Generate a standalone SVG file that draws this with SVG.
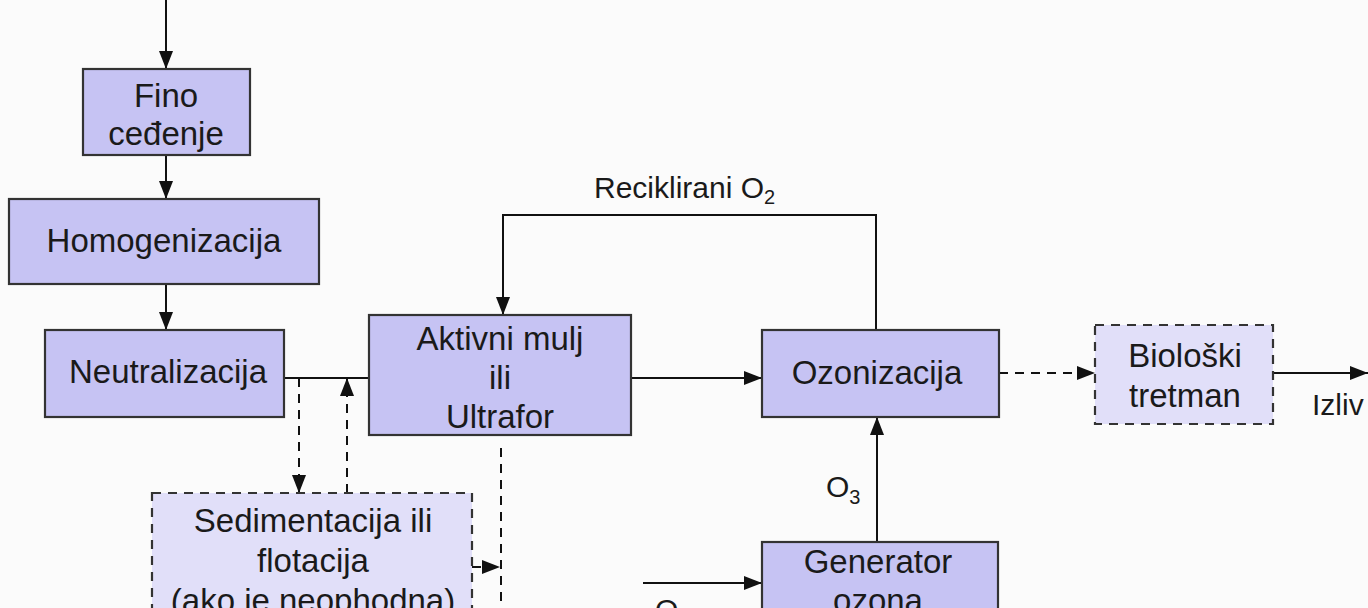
<svg xmlns="http://www.w3.org/2000/svg" width="1368" height="608" viewBox="0 0 1368 608">
<defs>
<marker id="ah" viewBox="0 0 18 14" refX="18" refY="7" markerWidth="18" markerHeight="14" markerUnits="userSpaceOnUse" orient="auto">
<path d="M0,0 L18,7 L0,14 Z" fill="#111"/>
</marker>
<style>
.box{fill:#c6c3f3;stroke:#333;stroke-width:2.2}
.dbox{fill:#e1dff9;stroke:#333;stroke-width:2.2;stroke-dasharray:9 7}
.t{font-family:"Liberation Sans",Arial,sans-serif;font-size:33px;fill:#1a1a1a;text-anchor:middle}
.lb{font-family:"Liberation Sans",Arial,sans-serif;font-size:30px;fill:#1a1a1a}
.c{fill:none;stroke:#111;stroke-width:2}
.d{fill:none;stroke:#111;stroke-width:2;stroke-dasharray:9 7}
</style>
</defs>
<rect width="1368" height="608" fill="#fbfbfb"/>
<g id="connectors">
<path class="c" d="M166,0 V69" marker-end="url(#ah)"/>
<path class="c" d="M166,155 V199" marker-end="url(#ah)"/>
<path class="c" d="M166,284 V330" marker-end="url(#ah)"/>
<path class="c" d="M284,378 H369"/>
<path class="d" d="M299,378 V493" marker-end="url(#ah)"/>
<path class="d" d="M347,493 V378" marker-end="url(#ah)"/>
<path class="d" d="M501,448 V608"/>
<path class="d" d="M472,567 H500" marker-end="url(#ah)"/>
<path class="c" d="M631,378 H762" marker-end="url(#ah)"/>
<path class="c" d="M876,330 V215 H503 V315" marker-end="url(#ah)"/>
<path class="d" d="M999,373 H1095" marker-end="url(#ah)"/>
<path class="c" d="M1273,373 H1368" marker-end="url(#ah)"/>
<path class="c" d="M877,542 V417" marker-end="url(#ah)"/>
<path class="c" d="M643,583 H762" marker-end="url(#ah)"/>
<text class="lb" x="594" y="198">Reciklirani O<tspan font-size="20" dy="6">2</tspan></text>
<text class="lb" x="826" y="497">O<tspan font-size="20" dy="7">3</tspan></text>
<text class="lb" x="655" y="620">O<tspan font-size="20" dy="7">2</tspan></text>
<text class="lb" x="1312" y="415">Izliv</text>
</g>
<g id="fino">
<rect class="box" x="83" y="69" width="167" height="86"/>
<text class="t" x="166" y="107">Fino</text>
<text class="t" x="166" y="145">ceđenje</text>
</g>
<g id="homogenizacija">
<rect class="box" x="9" y="199" width="310" height="85"/>
<text class="t" x="164" y="252">Homogenizacija</text>
</g>
<g id="neutralizacija">
<rect class="box" x="45" y="330" width="239" height="87"/>
<text class="t" x="168" y="383">Neutralizacija</text>
</g>
<g id="aktivni">
<rect class="box" x="369" y="315" width="262" height="120"/>
<text class="t" x="500" y="350">Aktivni mulj</text>
<text class="t" x="500" y="389">ili</text>
<text class="t" x="500" y="428">Ultrafor</text>
</g>
<g id="sedimentacija">
<rect class="dbox" x="152" y="493" width="320" height="140"/>
<text class="t" x="313" y="532">Sedimentacija ili</text>
<text class="t" x="313" y="572">flotacija</text>
<text class="t" x="313" y="612">(ako je neophodna)</text>
</g>
<g id="ozonizacija">
<rect class="box" x="762" y="330" width="237" height="87"/>
<text class="t" x="877" y="384">Ozonizacija</text>
</g>
<g id="bioloski">
<rect class="dbox" x="1095" y="325" width="178" height="99"/>
<text class="t" x="1185" y="367">Biološki</text>
<text class="t" x="1185" y="407">tretman</text>
</g>
<g id="generator">
<rect class="box" x="762" y="542" width="236" height="100"/>
<text class="t" x="878" y="573">Generator</text>
<text class="t" x="878" y="612">ozona</text>
</g>
</svg>
